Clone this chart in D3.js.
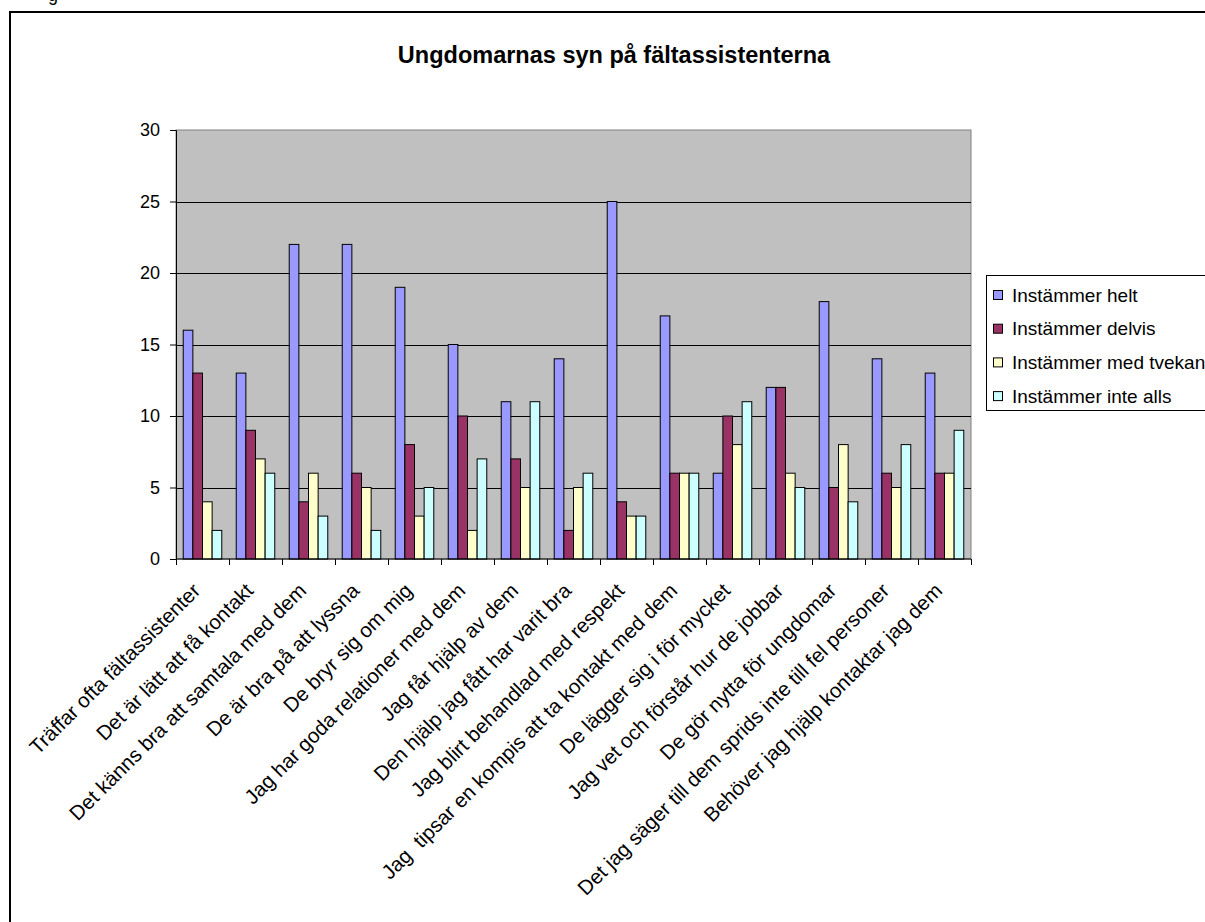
<!DOCTYPE html>
<html>
<head>
<meta charset="utf-8">
<script src="https://cdn.jsdelivr.net/npm/d3@7"></script>
<style>
  html, body { margin: 0; padding: 0; background: #fff; }
  svg { display: block; }
  text { font-family: "Liberation Sans", Arial, sans-serif; fill: #000; white-space: pre; }
</style>
</head>
<body>
<svg id="chart" width="1205" height="922"></svg>
<script>
const title = "Ungdomarnas syn på fältassistenterna";
const categories = [
  "Träffar ofta fältassistenter",
  "Det är lätt att få kontakt",
  "Det känns bra att samtala med dem",
  "De är bra på att lyssna",
  "De bryr sig om mig",
  "Jag har goda relationer med dem",
  "Jag får hjälp av dem",
  "Den hjälp jag fått har varit bra",
  "Jag blirt behandlad med respekt",
  "Jag  tipsar en kompis att ta kontakt med dem",
  "De lägger sig i för mycket",
  "Jag vet och förstår hur de jobbar",
  "De gör nytta för ungdomar",
  "Det jag säger till dem sprids inte till fel personer",
  "Behöver jag hjälp kontaktar jag dem"
];
const seriesNames = ["Instämmer helt", "Instämmer delvis", "Instämmer med tvekan", "Instämmer inte alls"];
const helt   = [16, 13, 22, 22, 19, 15, 11, 14, 25, 17, 6, 12, 18, 14, 13];
const delvis = [13, 9, 4, 6, 8, 10, 7, 2, 4, 6, 10, 12, 5, 6, 6];
const tvekan = [4, 7, 6, 5, 3, 2, 5, 5, 3, 6, 8, 6, 8, 5, 6];
const inteAlls = [2, 6, 3, 2, 5, 7, 11, 6, 3, 6, 11, 5, 4, 8, 9];
const seriesValues = [helt, delvis, tvekan, inteAlls];
const colors = ["#9999FF", "#993366", "#FFFFCC", "#CCFFFF"];
const yTicks = [0, 5, 10, 15, 20, 25, 30];

const svg = d3.select("#chart");

// outer chart frame (cut off at right and bottom)
svg.append("rect")
  .attr("x", 10).attr("y", 12).attr("width", 1260).attr("height", 960)
  .attr("fill", "#fff").attr("stroke", "#000").attr("stroke-width", 2);

// partially visible caption above the frame
svg.append("text").attr("x", 48).attr("y", 1).attr("font-size", 18).text("g");

const plot = { left: 176, right: 971, top: 130, bottom: 559 };

const x0 = d3.scaleBand().domain(categories).range([plot.left, plot.right]).padding(0);
const bw = x0.bandwidth();
const x1 = d3.scaleBand().domain(d3.range(seriesNames.length))
  .range([bw * 0.75 / 5.5, bw * 4.75 / 5.5]).padding(0);
const y = d3.scaleLinear().domain([0, 30]).range([plot.bottom, plot.top]);

// title
svg.append("text")
  .attr("x", 614).attr("y", 63)
  .attr("text-anchor", "middle")
  .attr("font-weight", "bold")
  .attr("font-size", 23.5)
  .text(title);

// plot area
svg.append("rect")
  .attr("x", plot.left).attr("y", plot.top)
  .attr("width", plot.right - plot.left).attr("height", plot.bottom - plot.top)
  .attr("fill", "#C0C0C0").attr("stroke", "#808080").attr("stroke-width", 1);

// gridlines
svg.append("g")
  .selectAll("line")
  .data(yTicks.filter(t => t > 0 && t < 30))
  .join("line")
  .attr("x1", plot.left).attr("x2", plot.right)
  .attr("y1", d => Math.round(y(d)) + 0.5).attr("y2", d => Math.round(y(d)) + 0.5)
  .attr("stroke", "#000").attr("stroke-width", 1);

// bars
const groups = svg.append("g").selectAll("g")
  .data(categories)
  .join("g")
  .attr("transform", d => `translate(${x0(d)},0)`);

groups.selectAll("rect")
  .data((d, i) => seriesValues.map((vals, s) => ({ s, v: vals[i] })))
  .join("rect")
  .attr("x", d => x1(d.s))
  .attr("y", d => y(d.v))
  .attr("width", x1.bandwidth())
  .attr("height", d => y(0) - y(d.v))
  .attr("fill", d => colors[d.s])
  .attr("stroke", "#000")
  .attr("stroke-width", 1);

// y axis
const yAxis = d3.axisLeft(y).tickValues(yTicks).tickSize(6).tickPadding(10);
const gy = svg.append("g").attr("transform", `translate(${plot.left},0)`).call(yAxis);
gy.select(".domain").attr("stroke", "#000");
gy.selectAll(".tick line").attr("stroke", "#000");
gy.selectAll("text").attr("font-size", 18).attr("font-family", "Liberation Sans, Arial, sans-serif").attr("fill", "#000");

// x axis line + ticks at category boundaries
const boundaries = categories.map(c => x0(c)).concat([plot.right]);
svg.append("line")
  .attr("x1", plot.left).attr("x2", plot.right)
  .attr("y1", plot.bottom).attr("y2", plot.bottom)
  .attr("stroke", "#000");
svg.append("g").selectAll("line")
  .data(boundaries)
  .join("line")
  .attr("x1", d => Math.round(d) + 0.5).attr("x2", d => Math.round(d) + 0.5)
  .attr("y1", plot.bottom).attr("y2", plot.bottom + 6)
  .attr("stroke", "#000");

// category labels
svg.append("g").selectAll("text")
  .data(categories)
  .join("text")
  .attr("text-anchor", "end")
  .attr("font-size", 20.5)
  .attr("transform", d => `translate(${x0(d) + bw / 2 - 1},${plot.bottom + 33}) rotate(-45)`)
  .text(d => d);

// legend
const lg = svg.append("g");
lg.append("rect")
  .attr("x", 986.5).attr("y", 275.5).attr("width", 260).attr("height", 135)
  .attr("fill", "#fff").attr("stroke", "#000").attr("stroke-width", 1);
const legendItems = lg.selectAll("g.item")
  .data(seriesNames)
  .join("g")
  .attr("class", "item")
  .attr("transform", (d, i) => `translate(993,${295 + i * 33.7})`);
legendItems.append("rect")
  .attr("x", 0.5).attr("y", -4.5).attr("width", 9).attr("height", 9)
  .attr("fill", (d, i) => colors[i]).attr("stroke", "#000").attr("stroke-width", 1);
legendItems.append("text")
  .attr("x", 19).attr("y", 6.5)
  .attr("font-size", 19)
  .text(d => d);
</script>
</body>
</html>
